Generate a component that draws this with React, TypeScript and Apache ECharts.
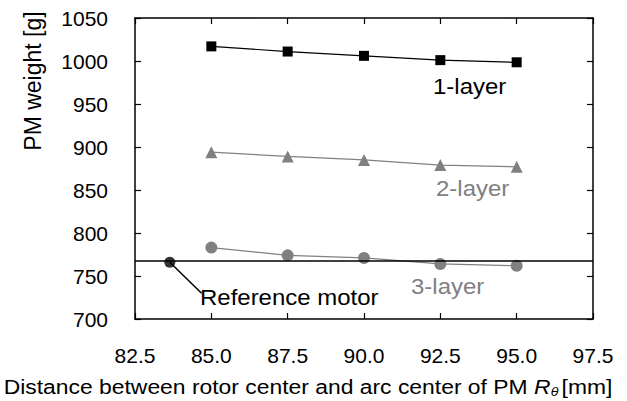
import React, { useEffect, useRef } from "react";
import * as echarts from "echarts";

const distances = [85.0, 87.5, 90.0, 92.5, 95.0];
const layer1 = [1017, 1011, 1006, 1001, 998.5];
const layer2 = [894, 889, 885, 879, 877];
const layer3 = [783, 774, 771, 764, 762];
const referenceLine = 768;
const referencePoint = [83.64, 766];
const referenceLeaderEnd = [84.68, 730];
const xTicks = { min: 82.5, max: 97.5, interval: 2.5 };
const yTicks = { min: 700, max: 1050, interval: 50 };

const FONT = "'Liberation Sans', Arial, sans-serif";
const GRAY = "#808080";

export default function App() {
  const ref = useRef<HTMLDivElement>(null);
  useEffect(() => {
    if (!ref.current) return;
    const chart = echarts.init(ref.current, undefined, { renderer: "svg" });
    const zip = (ys: number[]) => distances.map((x, i) => [x, ys[i]]);
    const axisCommon = {
      axisLine: { show: true, lineStyle: { color: "#000", width: 1.5 } },
      axisTick: { show: true, inside: true, length: 6, lineStyle: { color: "#000", width: 1.2 } },
      splitLine: { show: false },
    };
    const label = (text: string, x: number, y: number, color: string) => ({
      type: "text",
      x,
      y,
      scaleX: 1.09,
      style: {
        text,
        fill: color,
        fontSize: 22,
        fontFamily: FONT,
        align: "left",
        verticalAlign: "middle",
      },
      z: 10,
    });
    chart.setOption({
      animation: false,
      textStyle: { fontFamily: FONT },
      grid: { left: 135, top: 18, right: 34, bottom: 82, containLabel: false },
      xAxis: [
        {
          type: "value",
          position: "bottom",
          ...xTicks,
          ...axisCommon,
          axisLabel: {
            color: "#000",
            fontSize: 21,
            fontFamily: FONT,
            margin: 26,
            formatter: (v: number) => v.toFixed(1),
          },
        },
        {
          type: "value",
          position: "top",
          ...xTicks,
          ...axisCommon,
          axisLabel: { show: false },
        },
      ],
      yAxis: [
        {
          type: "value",
          position: "left",
          ...yTicks,
          ...axisCommon,
          axisLabel: {
            color: "#000",
            fontSize: 21,
            fontFamily: FONT,
            margin: 27,
            formatter: (v: number) => String(v),
          },
        },
        {
          type: "value",
          position: "right",
          ...yTicks,
          ...axisCommon,
          axisLabel: { show: false },
        },
      ],
      series: [
        {
          name: "1-layer",
          type: "line",
          data: zip(layer1),
          symbol: "rect",
          symbolSize: 10,
          itemStyle: { color: "#000" },
          lineStyle: { color: "#000", width: 1.2 },
          z: 5,
        },
        {
          name: "2-layer",
          type: "line",
          data: zip(layer2),
          symbol: "triangle",
          symbolSize: 12,
          itemStyle: { color: GRAY },
          lineStyle: { color: GRAY, width: 1.2 },
          z: 5,
        },
        {
          name: "3-layer",
          type: "line",
          data: zip(layer3),
          symbol: "circle",
          symbolSize: 12,
          itemStyle: { color: GRAY },
          lineStyle: { color: GRAY, width: 1.2 },
          z: 4,
          markLine: {
            silent: true,
            symbol: "none",
            label: { show: false },
            lineStyle: { color: "#000", width: 1.5, type: "solid" },
            data: [{ yAxis: referenceLine }],
          },
        },
        {
          name: "leader",
          type: "line",
          data: [referencePoint, referenceLeaderEnd],
          symbol: "none",
          lineStyle: { color: "#000", width: 1.5 },
          z: 6,
        },
        {
          name: "Reference motor",
          type: "scatter",
          data: [referencePoint],
          symbol: "circle",
          symbolSize: 11,
          itemStyle: { color: "#000" },
          z: 7,
        },
      ],
      graphic: [
        label("1-layer", 433, 86, "#000"),
        label("2-layer", 436, 188, GRAY),
        label("3-layer", 411, 286, GRAY),
        label("Reference motor", 200, 297, "#000"),
        {
          type: "text",
          x: 33,
          y: 81,
          rotation: Math.PI / 2,
          style: {
            text: "PM weight [g]",
            fill: "#000",
            fontSize: 23,
            fontFamily: FONT,
            align: "center",
            verticalAlign: "middle",
          },
        },
        {
          type: "text",
          x: 308,
          y: 387,
          scaleX: 1.09,
          style: {
            text: "Distance between rotor center and arc center of PM {i|R}{s|θ}[mm]",
            fill: "#000",
            fontSize: 21,
            fontFamily: FONT,
            align: "center",
            verticalAlign: "middle",
            rich: {
              i: { fontStyle: "italic", fontSize: 21, fontFamily: FONT, fill: "#000" },
              s: {
                fontStyle: "italic",
                fontSize: 13,
                fontFamily: FONT,
                fill: "#000",
                verticalAlign: "bottom",
                padding: [9, 3, 0, 0],
              },
            },
          },
        },
      ],
    });
    return () => chart.dispose();
  }, []);
  return <div ref={ref} style={{ width: 627, height: 401, position: "absolute", left: 0, top: 0 }} />;
}
